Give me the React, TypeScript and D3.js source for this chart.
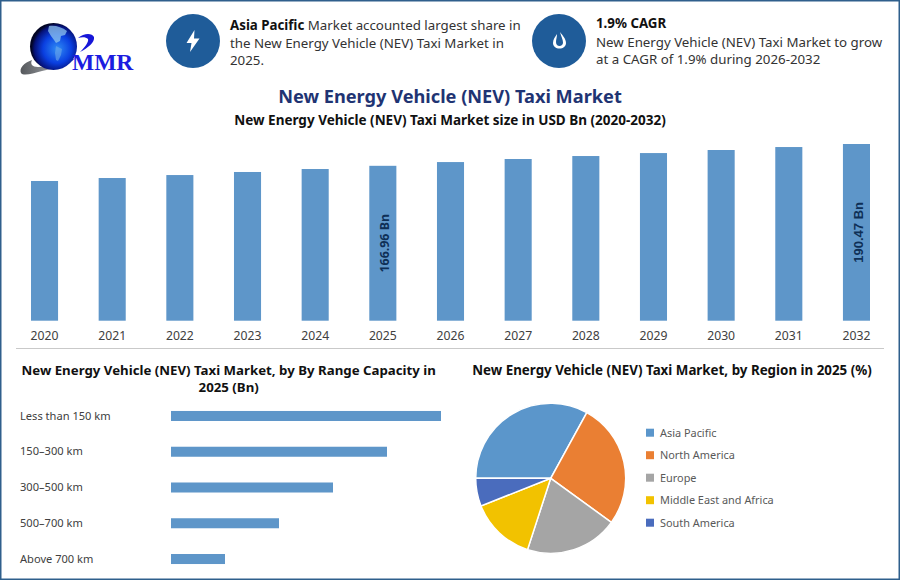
import React, { useEffect, useRef } from "react";
import * as d3 from "d3";

const years = ["2020","2021","2022","2023","2024","2025","2026","2027","2028","2029","2030","2031","2032"];
const marketSize = [150.6, 153.8, 157.0, 160.3, 163.5, 166.96, 171.0, 174.3, 177.5, 180.7, 184.0, 187.2, 190.47];
const barLabels: Record<string, string> = { "2025": "166.96 Bn", "2032": "190.47 Bn" };

const rangeNames = ["Less than 150 km", "150–300 km", "300–500 km", "500–700 km", "Above 700 km"];
const rangeValues = [50, 40, 30, 20, 10];

const regions = ["Asia Pacific", "North America", "Europe", "Middle East and Africa", "South America"];
const regionShares = [33, 27, 20, 14, 6];
const regionColors = ["#5b96cb", "#ea7f33", "#a5a5a5", "#f2c200", "#4a6cbd"];

const SANS = "'Noto Sans', sans-serif";
const BAR = "#5e96c9";

const App: React.FC = () => {
  const chartRef = useRef<SVGSVGElement | null>(null);

  useEffect(() => {
    if (!chartRef.current) return;
    const svg = d3.select(chartRef.current);
    svg.selectAll("*").remove();
    svg.style("font-family", SANS);

    svg.append("rect").attr("x", 0.75).attr("y", 0.75).attr("width", 898.5).attr("height", 578.5)
      .attr("fill", "#fff").attr("stroke", "#2f5f8c").attr("stroke-width", 1.5);

    const addText = (x: number, y: number, s: string, size: number, weight = 400, fill = "#333", anchor = "start") =>
      svg.append("text").attr("x", x).attr("y", y).attr("font-size", size).attr("font-weight", weight)
        .attr("fill", fill).attr("text-anchor", anchor).text(s);

    // logo
    const defs = svg.append("defs");
    const globe = defs.append("radialGradient").attr("id", "globe").attr("cx", "58%").attr("cy", "55%").attr("r", "55%");
    globe.append("stop").attr("offset", "0%").attr("stop-color", "#2f8cf5");
    globe.append("stop").attr("offset", "55%").attr("stop-color", "#0a3fe0");
    globe.append("stop").attr("offset", "88%").attr("stop-color", "#05127a");
    globe.append("stop").attr("offset", "100%").attr("stop-color", "#020524");
    const swoosh = defs.append("linearGradient").attr("id", "swoosh").attr("x1", "0").attr("x2", "1");
    swoosh.append("stop").attr("offset", "0%").attr("stop-color", "#55585c");
    swoosh.append("stop").attr("offset", "60%").attr("stop-color", "#9a9da1");
    swoosh.append("stop").attr("offset", "100%").attr("stop-color", "#2a3bd0");

    svg.append("path").attr("d", "M32 60 C24 63 19 68 21 73 C23 76 32 74 42 71 C54 68 66 66 76 58 C66 63 50 67 38 67 C32 67 30 64 32 60 Z")
      .attr("fill", "url(#swoosh)");
    svg.append("circle").attr("cx", 53.5).attr("cy", 46.5).attr("r", 23.5).attr("fill", "url(#globe)");
    svg.append("path").attr("d", "M49 26 C55 25 62 27 67 31 L65 35 L61 36 L60 41 L56 43 L54 40 L51 36 L48 31 Z")
      .attr("fill", "#8fc4ee").attr("opacity", 0.75);
    svg.append("path").attr("d", "M56 46 L62 49 L61 55 L58 61 L56 60 L55 53 Z").attr("fill", "#6ea9ea").attr("opacity", 0.6);
    svg.append("path").attr("d", "M78 38 C84 33 92 33 94 37 C95 42 88 48 80 52 C85 47 89 42 88 39 C86 37 82 37 78 38 Z")
      .attr("fill", "#1616d8");
    addText(72, 70, "MMR", 23.5, 700, "#1c1ce0").style("font-family", "'Liberation Serif', serif");

    // header badges
    svg.append("circle").attr("cx", 193).attr("cy", 41).attr("r", 27).attr("fill", "#1f5c99");
    svg.append("circle").attr("cx", 559).attr("cy", 41).attr("r", 27).attr("fill", "#1f5c99");
    svg.append("path").attr("d", "M194.5 30 L186.5 43 L191.5 43 L190 52 L199.5 38.5 L194 38.5 Z").attr("fill", "#fff");
    svg.append("path").attr("fill", "#fff").attr("fill-rule", "evenodd")
      .attr("d", "M560 32 C563 36 566 39 566 43 C566 46.5 563 48.5 559.5 48.5 C556 48.5 553 46.5 553 43 C553 39.5 555 37 557 34 C557 37 556 39.5 556 42 C556 44.5 557.5 46 559.5 46 C561.5 46 563 44.5 563 42.5 C563 39.5 561 36 560 32 Z");

    const asia = addText(230, 30, "", 13.3, 400, "#333");
    asia.append("tspan").attr("font-weight", 700).attr("fill", "#111").text("Asia Pacific");
    asia.append("tspan").text(" Market accounted largest share in");
    addText(230, 48, "the New Energy Vehicle (NEV) Taxi Market in", 13.3);
    addText(230, 65, "2025.", 13.3);
    addText(596, 28, "1.9% CAGR", 13.3, 700, "#111");
    addText(596, 47, "New Energy Vehicle (NEV) Taxi Market to grow", 13.3);
    addText(596, 64, "at a CAGR of 1.9% during 2026-2032", 13.3);

    addText(450, 103, "New Energy Vehicle (NEV) Taxi Market", 18.2, 700, "#1f3473", "middle");
    addText(450, 125, "New Energy Vehicle (NEV) Taxi Market size in USD Bn (2020-2032)", 13.5, 700, "#111", "middle");

    // main column chart
    const x = d3.scaleBand<string>().domain(years).range([10.7, 890.3]).paddingInner(0.6).paddingOuter(0.3);
    const y = d3.scaleLinear().domain([0, 190.47]).range([320.7, 144]);

    svg.append("g").selectAll("rect").data(years).join("rect")
      .attr("x", (d) => x(d) ?? 0)
      .attr("y", (_, i) => y(marketSize[i]))
      .attr("width", x.bandwidth())
      .attr("height", (_, i) => y(0) - y(marketSize[i]))
      .attr("fill", BAR);

    const xAxis = svg.append("g").attr("transform", "translate(0,320.7)")
      .call(d3.axisBottom(x).tickSize(0).tickPadding(11));
    xAxis.select(".domain").remove();
    xAxis.selectAll("text").attr("font-size", 12.2).attr("fill", "#404040").style("font-family", SANS);

    years.forEach((yr, i) => {
      const label = barLabels[yr];
      if (!label) return;
      const cx = (x(yr) ?? 0) + x.bandwidth() / 2 + 1.5;
      const cy = (y(marketSize[i]) + y(0)) / 2;
      svg.append("text").attr("transform", `translate(${cx},${cy}) rotate(-90)`)
        .attr("text-anchor", "middle").attr("dy", "0.35em").attr("font-size", yr === "2032" ? 13 : 12.4).attr("font-weight", 700)
        .attr("fill", "#0e2f56").style("font-family", yr === "2032" ? "'Liberation Sans', sans-serif" : SANS)
        .text(label);
    });

    svg.append("line").attr("x1", 16).attr("x2", 884).attr("y1", 348.5).attr("y2", 348.5)
      .attr("stroke", "#c9c9c9").attr("stroke-width", 1);

    // range capacity bars
    addText(228.7, 375, "New Energy Vehicle (NEV) Taxi Market, by By Range Capacity in", 13.25, 700, "#111", "middle");
    addText(228.7, 392, "2025 (Bn)", 13.25, 700, "#111", "middle");

    const rx = d3.scaleLinear().domain([0, 50]).range([171, 441]);
    const ry = d3.scaleBand<string>().domain(rangeNames).range([398.1, 576.9]).paddingInner(0.72).paddingOuter(0.36);
    svg.append("g").selectAll("rect").data(rangeNames).join("rect")
      .attr("x", rx(0))
      .attr("y", (d) => ry(d) ?? 0)
      .attr("width", (_, i) => rx(rangeValues[i]) - rx(0))
      .attr("height", ry.bandwidth())
      .attr("fill", BAR);
    const yAxis = svg.append("g").attr("transform", "translate(20,0)")
      .call(d3.axisRight(ry).tickSize(0).tickPadding(0));
    yAxis.select(".domain").remove();
    yAxis.selectAll("text").attr("font-size", 11.1).attr("fill", "#404040").style("font-family", SANS);

    // region pie
    addText(672, 375, "New Energy Vehicle (NEV) Taxi Market, by Region in 2025 (%)", 13.35, 700, "#111", "middle");
    const pie = d3.pie<number>().sort(null).startAngle(-Math.PI / 2).endAngle((3 * Math.PI) / 2);
    const arc = d3.arc<d3.PieArcDatum<number>>().innerRadius(0).outerRadius(75);
    svg.append("g").attr("transform", "translate(550.7,478.3)")
      .selectAll("path").data(pie(regionShares)).join("path")
      .attr("d", arc)
      .attr("fill", (_, i) => regionColors[i])
      .attr("stroke", "#fff").attr("stroke-width", 1.5);

    const ly = d3.scalePoint<string>().domain(regions).range([432.7, 522.7]);
    const legend = svg.append("g").selectAll("g").data(regions).join("g")
      .attr("transform", (d) => `translate(646,${ly(d)})`);
    legend.append("rect").attr("x", 0).attr("y", -4).attr("width", 8).attr("height", 8)
      .attr("fill", (_, i) => regionColors[i]);
    legend.append("text").attr("x", 14).attr("dy", "0.35em").attr("font-size", 10.9).attr("fill", "#595959").text((d) => d);
  }, []);

  return <svg ref={chartRef} width={900} height={580} style={{ position: "absolute", left: 0, top: 0 }} />;
};

export default App;
